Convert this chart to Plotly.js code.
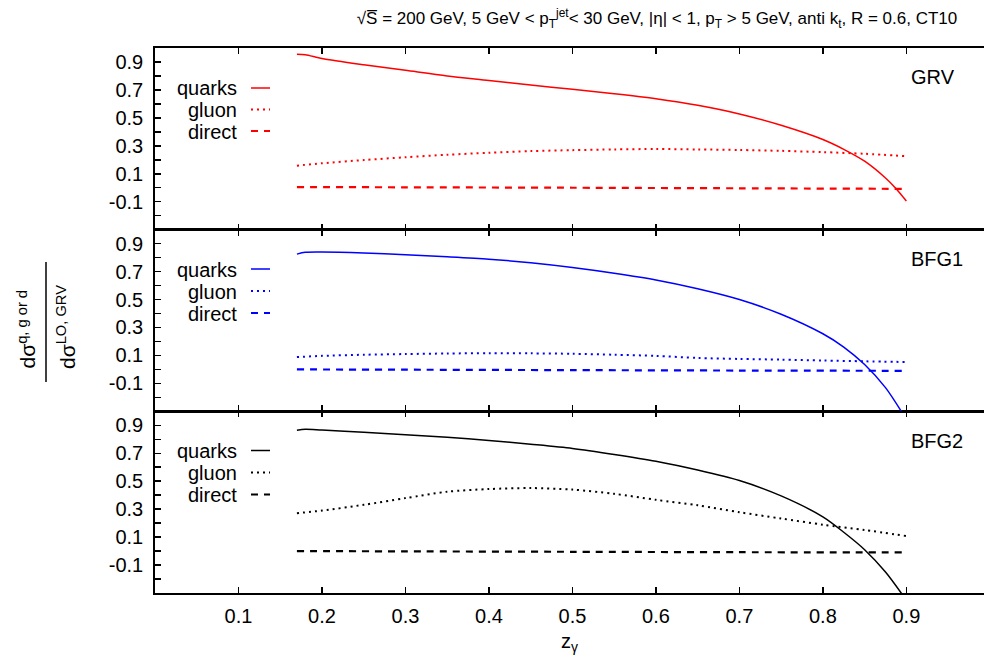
<!DOCTYPE html>
<html>
<head>
<meta charset="utf-8">
<script src="https://cdn.plot.ly/plotly-3.0.1.min.js"></script>
<style>html,body{margin:0;padding:0;background:#fff;}</style>
</head>
<body>
<div id="chart" style="width:984px;height:666px;"></div>
<script>
// ---- data ----
const panelNames = ["GRV", "BFG1", "BFG2"];
const seriesNames = ["quarks", "gluon", "direct"];
const colors = ["#ff0000", "#0000ff", "#000000"];

const zQuarkGRV = [0.17, 0.18, 0.2, 0.25, 0.3, 0.35, 0.4, 0.45, 0.5, 0.55, 0.6, 0.65, 0.7, 0.75, 0.8, 0.825, 0.85, 0.875, 0.8875, 0.9];
const quarkGRV  = [0.955, 0.952, 0.925, 0.88, 0.84, 0.80, 0.768, 0.735, 0.705, 0.673, 0.637, 0.59, 0.528, 0.447, 0.345, 0.275, 0.19, 0.07, -0.005, -0.095];
const zGluon    = [0.17, 0.2, 0.25, 0.3, 0.35, 0.4, 0.45, 0.5, 0.55, 0.6, 0.65, 0.7, 0.75, 0.8, 0.85, 0.9];
const gluonGRV  = [0.158, 0.175, 0.198, 0.218, 0.236, 0.25, 0.262, 0.269, 0.274, 0.277, 0.274, 0.27, 0.264, 0.255, 0.243, 0.226];
const zDirect   = [0.17, 0.3, 0.5, 0.7, 0.9];
const directGRV = [0.005, 0.003, 0.0, -0.004, -0.008];

const zQuarkBFG = [0.17, 0.18, 0.2, 0.25, 0.3, 0.35, 0.4, 0.45, 0.5, 0.55, 0.6, 0.65, 0.7, 0.75, 0.8, 0.825, 0.85, 0.875, 0.895];
const quarkBFG1 = [0.825, 0.838, 0.84, 0.833, 0.82, 0.806, 0.789, 0.763, 0.729, 0.688, 0.64, 0.577, 0.5, 0.395, 0.255, 0.16, 0.035, -0.13, -0.31];
const gluonBFG1 = [0.088, 0.097, 0.105, 0.11, 0.114, 0.116, 0.115, 0.112, 0.105, 0.097, 0.082, 0.075, 0.07, 0.064, 0.058, 0.053];
const directBFG1 = [0.0, -0.002, -0.005, -0.008, -0.01];

const quarkBFG2 = [0.865, 0.872, 0.866, 0.85, 0.833, 0.815, 0.792, 0.765, 0.735, 0.692, 0.643, 0.58, 0.505, 0.395, 0.245, 0.135, 0.01, -0.15, -0.31];
const gluonBFG2 = [0.271, 0.29, 0.331, 0.379, 0.425, 0.444, 0.451, 0.44, 0.41, 0.367, 0.328, 0.278, 0.233, 0.189, 0.151, 0.108];
const directBFG2 = [0.0, -0.002, -0.005, -0.008, -0.01];

const xTicks = [0.1, 0.2, 0.3, 0.4, 0.5, 0.6, 0.7, 0.8, 0.9];
const yTicks = [-0.1, 0.1, 0.3, 0.5, 0.7, 0.9];
const yMinorTicks = [-0.2, 0.0, 0.2, 0.4, 0.6, 0.8];

// ---- layout helpers ----
const W = 984, H = 666, ML = 155, MR = 0, MT = 48, MB = 73;
const PW = W - ML - MR, PH = H - MT - MB;
const px2x = p => (p - ML) / PW;
const py2y = p => (H - MB - p) / PH;
const FONT = "Liberation Sans, Arial, Helvetica, sans-serif";

const dashes = ["solid", "2px,4px", "7px,6px"];
const widths = [1.5, 2, 2.2];

const panels = [
  {xa: "x3", ya: "y",  z: [zQuarkGRV, zGluon, zDirect], v: [quarkGRV, gluonGRV, directGRV]},
  {xa: "x2", ya: "y2", z: [zQuarkBFG, zGluon, zDirect], v: [quarkBFG1, gluonBFG1, directBFG1]},
  {xa: "x",  ya: "y3", z: [zQuarkBFG, zGluon, zDirect], v: [quarkBFG2, gluonBFG2, directBFG2]}
];

const traces = [];
panels.forEach((p, i) => {
  for (let s = 0; s < 3; s++) {
    traces.push({
      type: "scatter", mode: "lines",
      x: p.z[s], y: p.v[s],
      xaxis: p.xa, yaxis: p.ya,
      name: panelNames[i] + " " + seriesNames[s],
      line: {color: colors[i], width: widths[s], dash: dashes[s], shape: "spline", smoothing: 0.8},
      showlegend: false, hoverinfo: "skip"
    });
  }
});

// legend + labels
const legendRowsY = [[88, 109.5, 131], [269, 291, 313], [450.5, 472.5, 494.5]];
const labelY = [77, 259, 440.5];
const annotations = [];
const shapes = [];
for (let i = 0; i < 3; i++) {
  for (let s = 0; s < 3; s++) {
    annotations.push({
      xref: "paper", yref: "paper", x: px2x(239), y: py2y(legendRowsY[i][s] + 0.5),
      xanchor: "right", yanchor: "middle", showarrow: false,
      text: seriesNames[s], font: {family: FONT, size: 20, color: "#000"}
    });
    shapes.push({
      type: "line", xref: "paper", yref: "paper",
      x0: px2x(251), x1: px2x(270), y0: py2y(legendRowsY[i][s]), y1: py2y(legendRowsY[i][s]),
      line: {color: colors[i], width: widths[s], dash: dashes[s]}
    });
  }
  annotations.push({
    xref: "paper", yref: "paper", x: px2x(909), y: py2y(labelY[i]),
    xanchor: "left", yanchor: "middle", showarrow: false,
    text: panelNames[i], font: {family: FONT, size: 20, color: "#000"}
  });
}
// y-axis fraction label
annotations.push({
  xref: "paper", yref: "paper", x: px2x(26), y: py2y(371),
  xanchor: "center", yanchor: "bottom", showarrow: false, textangle: -90,
  text: "dσ<sup>q, g or d</sup>", font: {family: FONT, size: 21, color: "#000"}
});
annotations.push({
  xref: "paper", yref: "paper", x: px2x(66), y: py2y(371),
  xanchor: "center", yanchor: "bottom", showarrow: false, textangle: -90,
  text: "dσ<sup>LO, GRV</sup>", font: {family: FONT, size: 21, color: "#000"}
});
shapes.push({
  type: "line", xref: "paper", yref: "paper",
  x0: px2x(46), x1: px2x(46), y0: py2y(262), y1: py2y(382),
  line: {color: "#000", width: 1.5}
});

const xBase = {
  range: [0, 0.993], tickvals: xTicks, ticks: "inside", ticklen: 6, tickwidth: 1.5,
  tickcolor: "#000", showline: true, linewidth: 1.6, linecolor: "#000", mirror: "ticks",
  showgrid: false, zeroline: false, fixedrange: true
};
const yBase = {
  range: [-0.3, 1.0], tickvals: yTicks, ticktext: yTicks.map(v => v.toFixed(1)),
  ticks: "inside", ticklen: 6, tickwidth: 1.5, tickcolor: "#000",
  minor: {tickmode: "array", tickvals: yMinorTicks, ticks: "inside", ticklen: 6, tickwidth: 1.5, tickcolor: "#000", showgrid: false},
  showline: true, linewidth: 1.8, linecolor: "#000", mirror: false,
  showgrid: false, zeroline: false, fixedrange: true,
  tickfont: {family: FONT, size: 20, color: "#000"}, ticklabelstandoff: 6
};

const layout = {
  width: W, height: H,
  margin: {l: ML, r: MR, t: MT, b: MB, pad: 0},
  paper_bgcolor: "#fff", plot_bgcolor: "#fff",
  showlegend: false,
  font: {family: FONT, size: 20, color: "#000"},
  title: {
    text: "√S̅ = 200 GeV, 5 GeV &lt; p<sub>T</sub><sup>jet</sup>&lt; 30 GeV, |η| &lt; 1, p<sub>T</sub> &gt; 5 GeV, anti k<sub>t</sub>, R = 0.6, CT10",
    x: 657 / W, xanchor: "center", y: 1 - 18 / H, yanchor: "middle",
    font: {family: FONT, size: 17, color: "#000"}
  },
  xaxis: Object.assign({}, xBase, {anchor: "y3", tickfont: {family: FONT, size: 20, color: "#000"}, ticklabelstandoff: 4,
    title: {text: "z<sub>γ</sub>", font: {family: FONT, size: 20, color: "#000"}, standoff: 8}}),
  xaxis2: Object.assign({}, xBase, {anchor: "y2", matches: "x", showticklabels: false}),
  xaxis3: Object.assign({}, xBase, {anchor: "y", matches: "x", showticklabels: false}),
  yaxis: Object.assign({}, yBase, {domain: [0.6667, 1]}),
  yaxis2: Object.assign({}, yBase, {domain: [0.3333, 0.6667]}),
  yaxis3: Object.assign({}, yBase, {domain: [0, 0.3333]}),
  annotations: annotations,
  shapes: shapes
};

Plotly.newPlot("chart", traces, layout, {displayModeBar: false, staticPlot: true});
</script>
</body>
</html>
